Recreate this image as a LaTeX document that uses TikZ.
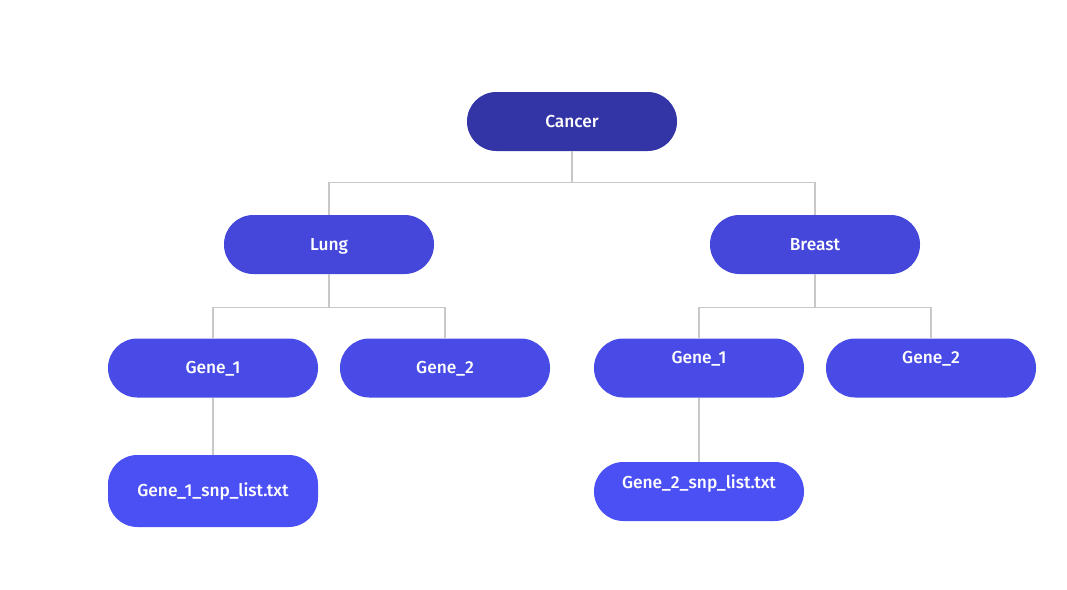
\documentclass[tikz,border=0pt]{standalone}
\usepackage{fontspec}
\setmainfont{Fira Sans}[UprightFont=* Medium]
\definecolor{topblue}{HTML}{3335A6}
\definecolor{midblue}{HTML}{4447D9}
\definecolor{geneblue}{HTML}{484BE6}
\definecolor{fileblue}{HTML}{4B50F5}
\definecolor{linkgray}{HTML}{C8C8C8}
\begin{document}
\begin{tikzpicture}[x=0.75pt,y=-0.75pt,
  box/.style={rectangle,rounded corners=22pt,minimum width=157.5pt,minimum height=44.25pt,
    text=white,font=\fontsize{13}{15}\selectfont,inner sep=0pt,text height=9.5pt,text depth=0.6pt},
  link/.style={draw=linkgray,line width=0.9pt}]
\useasboundingbox[fill=white] (0,0) rectangle (1067,589);

\node[box,fill=topblue] (cancer) at (572,121.5) {Cancer};
\node[box,fill=midblue] (lung) at (329,244.5) {Lung};
\node[box,fill=midblue] (breast) at (815,244.5) {Breast};

\node[box,fill=geneblue] (lgeneA) at (213,368) {Gene\_1};
\node[box,fill=geneblue] (lgeneB) at (445,368) {Gene\_2};
\node[box,fill=geneblue,text depth=15.6pt] (bgeneA) at (699,368) {Gene\_1};
\node[box,fill=geneblue,text depth=15.6pt] (bgeneB) at (931,368) {Gene\_2};

\node[box,fill=fileblue,minimum height=54pt] (lsnp) at (213,491) {Gene\_1\_snp\_list.txt};
\node[box,fill=fileblue,text depth=14.6pt] (bsnp) at (699,491.5) {Gene\_2\_snp\_list.txt};

\draw[link] (cancer.south) -- ++(0,31) -| (lung.north);
\draw[link] (cancer.south) -- ++(0,31) -| (breast.north);
\draw[link] (lung.south) -- ++(0,33) -| (lgeneA.north);
\draw[link] (lung.south) -- ++(0,33) -| (lgeneB.north);
\draw[link] (breast.south) -- ++(0,33) -| (bgeneA.north);
\draw[link] (breast.south) -- ++(0,33) -| (bgeneB.north);
\draw[link] (lgeneA.south) -- (lsnp.north);
\draw[link] (bgeneA.south) -- (bsnp.north);
\end{tikzpicture}
\end{document}
